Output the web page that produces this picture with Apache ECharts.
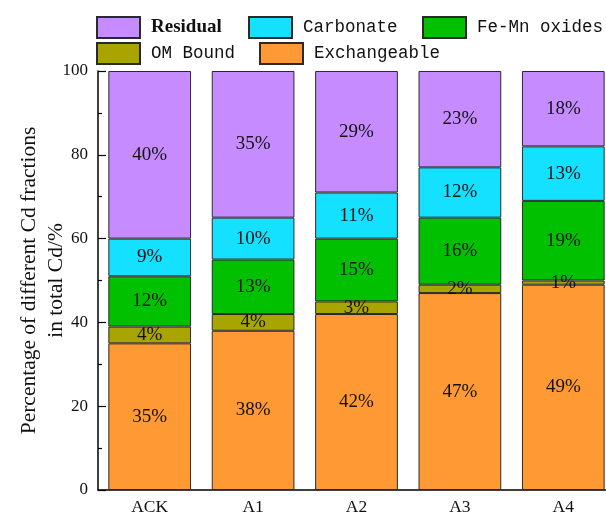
<!DOCTYPE html>
<html>
<head>
<meta charset="utf-8">
<script src="https://cdn.jsdelivr.net/npm/echarts@6/dist/echarts.min.js"></script>
<style>
  html, body { margin: 0; padding: 0; background: #fff; }
  #chart { width: 606px; height: 514px; }
</style>
</head>
<body>
<div id="chart"></div>
<script>
// Cd fraction shares (%) per treatment, stacked bottom to top
const categories = ['ACK', 'A1', 'A2', 'A3', 'A4'];
const exchangeable = [35, 38, 42, 47, 49];
const omBound = [4, 4, 3, 2, 1];
const feMnOxides = [12, 13, 15, 16, 19];
const carbonate = [9, 10, 11, 12, 13];
const residual = [40, 35, 29, 23, 18];
const yTicks = [0, 20, 40, 60, 80, 100];

const serif = '"Liberation Serif", "Times New Roman", serif';
const mono = '"Liberation Mono", "Courier New", monospace';

const colors = {
  'Exchangeable': '#FF9933',
  'OM Bound': '#A8A500',
  'Fe-Mn oxides': '#00C000',
  'Carbonate': '#14E0FF',
  'Residual': '#C68CFF'
};

function makeSeries(name, values) {
  return {
    name: name,
    type: 'bar',
    stack: 'total',
    barCategoryGap: '20%',
    data: values,
    itemStyle: { color: colors[name], borderColor: '#2a2a2a', borderWidth: 1 },
    label: {
      show: true,
      position: 'inside',
      formatter: p => p.value + '%',
      color: '#111',
      fontFamily: serif,
      fontSize: 19
    },
    emphasis: { disabled: true }
  };
}

function legendAt(name, left, top, textStyle) {
  return {
    data: [name],
    left: left,
    top: top,
    padding: 0,
    icon: 'rect',
    itemWidth: 43,
    itemHeight: 21,
    selectedMode: false,
    textStyle: Object.assign({
      fontFamily: mono,
      fontSize: 17.5,
      color: '#111',
      padding: [0, 0, 0, 6]
    }, textStyle || {})
  };
}

const chart = echarts.init(document.getElementById('chart'), null, { renderer: 'canvas' });
chart.setOption({
  animation: false,
  backgroundColor: '#fff',
  legend: [
    legendAt('Residual', 96, 16, { fontFamily: serif, fontWeight: 'bold', fontSize: 19, color: '#111' }),
    legendAt('Carbonate', 248, 16),
    legendAt('Fe-Mn oxides', 422, 16),
    legendAt('OM Bound', 96, 42),
    legendAt('Exchangeable', 259, 42)
  ],
  grid: {
    left: 98, top: 71, bottom: 24, width: 517,
    containLabel: false,
    outerBoundsMode: 'none'
  },
  xAxis: {
    type: 'category',
    data: categories,
    axisTick: { show: false },
    axisLine: { lineStyle: { color: '#000', width: 1.5 } },
    axisLabel: { color: '#111', fontFamily: serif, fontSize: 17.5, margin: 8 }
  },
  yAxis: {
    type: 'value',
    min: yTicks[0],
    max: yTicks[yTicks.length - 1],
    interval: 20,
    name: 'Percentage of different Cd fractions\nin total Cd/%',
    nameLocation: 'middle',
    nameGap: 28,
    nameMoveOverlap: false,
    nameTextStyle: { fontFamily: serif, fontSize: 21.5, color: '#111', lineHeight: 27 },
    axisLine: { show: true, lineStyle: { color: '#000', width: 1.5 } },
    axisTick: { show: true, inside: true, length: 8, lineStyle: { color: '#000', width: 1.2 } },
    minorTick: { show: true, splitNumber: 2, length: 4, lineStyle: { color: '#000', width: 1.2 } },
    splitLine: { show: false },
    axisLabel: { color: '#111', fontFamily: serif, fontSize: 17, margin: 10 }
  },
  series: [
    makeSeries('Exchangeable', exchangeable),
    makeSeries('OM Bound', omBound),
    makeSeries('Fe-Mn oxides', feMnOxides),
    makeSeries('Carbonate', carbonate),
    makeSeries('Residual', residual)
  ]
});
</script>
</body>
</html>
